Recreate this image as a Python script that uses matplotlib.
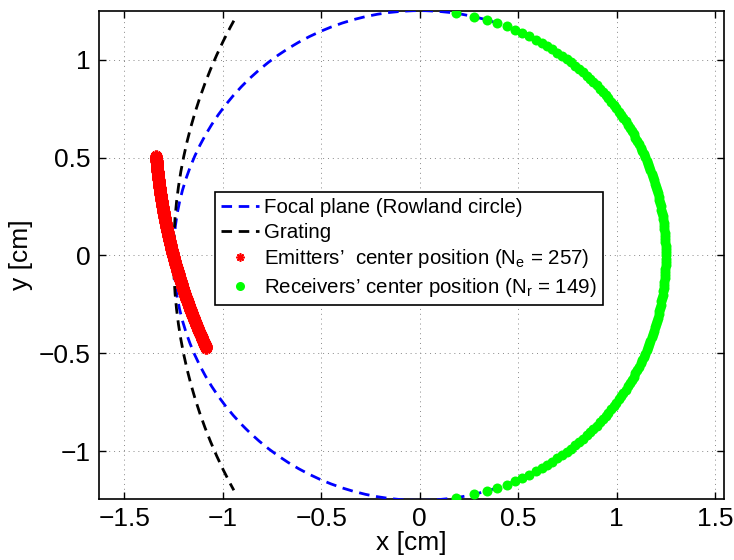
import numpy as np
import matplotlib
matplotlib.use("Agg")
import matplotlib.pyplot as plt
from matplotlib.patches import Circle, Arc
from matplotlib.lines import Line2D

plt.rcParams["font.family"] = ["Liberation Sans", "DejaVu Sans"]
plt.rcParams["mathtext.fontset"] = "custom"
plt.rcParams["mathtext.rm"] = "Liberation Sans"
plt.rcParams["mathtext.it"] = "Liberation Sans"

# geometry (cm)
rowland_center = (0.0, 0.0)
rowland_radius = 1.25
grating_center = (1.25, 0.0)
grating_radius = 2.5
grating_half_angle_deg = 28.65          # +-0.5 rad

n_emitters = 257
emitter_arc_center = (1.594, 0.749)
emitter_arc_radius = 2.943
emitter_angle_span_deg = (184.7, 204.5)

n_receivers = 149
receiver_y_span = (-1.236, 1.236)

xticks = [-1.5, -1, -0.5, 0, 0.5, 1, 1.5]
yticks = [-1, -0.5, 0, 0.5, 1]
tick_labels_x = ["\u22121.5", "\u22121", "\u22120.5", "0", "0.5", "1", "1.5"]
tick_labels_y = ["\u22121", "\u22120.5", "0", "0.5", "1"]

BLUE, RED, GREEN = "#0000ff", "#ff0000", "#00ff00"
DASH = (0, (3.8, 2.4))

# emitter / receiver positions
th = np.deg2rad(np.linspace(*emitter_angle_span_deg, n_emitters))
ex = emitter_arc_center[0] + emitter_arc_radius * np.cos(th)
ey = emitter_arc_center[1] + emitter_arc_radius * np.sin(th)
ry = np.linspace(*receiver_y_span, n_receivers)
rx = np.sqrt(rowland_radius ** 2 - ry ** 2)

fig = plt.figure(figsize=(7.34, 5.6), dpi=100)
ax = fig.add_axes([0.1346, 0.109, 0.8515, 0.872])

ax.add_patch(Circle(rowland_center, rowland_radius, fill=False, ec=BLUE,
                    lw=2.0, ls=DASH, zorder=3))
ax.add_patch(Arc(grating_center, 2 * grating_radius, 2 * grating_radius,
                 theta1=180 - grating_half_angle_deg, theta2=180 + grating_half_angle_deg,
                 ec="k", lw=2.0, ls=DASH, zorder=3))
ax.plot(ex, ey, ls="none", marker=(8, 2, 0), ms=8.5, mew=2.4, color=RED, zorder=4)
ax.plot(rx, ry, ls="none", marker="o", ms=7.2, mew=0, color=GREEN, zorder=5)

ax.set_xlim(-1.63, 1.545)
ax.set_ylim(-1.243, 1.25)
ax.set_xticks(xticks)
ax.set_xticklabels(tick_labels_x)
ax.set_yticks(yticks)
ax.set_yticklabels(tick_labels_y)
ax.tick_params(direction="in", top=True, right=True, length=5, width=1,
               labelsize=19, pad=6)
ax.grid(True, ls=(0, (1, 4)), color="#888888", lw=0.7)
for s in ax.spines.values():
    s.set_linewidth(1.2)
ax.set_xlabel("x [cm]", fontsize=19, labelpad=0)
ax.set_ylabel("y [cm]", fontsize=19, labelpad=4)

handles = [
    Line2D([], [], color=BLUE, lw=2.0, ls=DASH),
    Line2D([], [], color="k", lw=2.0, ls=DASH),
    Line2D([], [], ls="none", marker=(8, 2, 0), ms=6, mew=1.2, color=RED),
    Line2D([], [], ls="none", marker="o", ms=6.5, mew=0, color=GREEN),
]
labels = [
    "Focal plane (Rowland circle)",
    "Grating",
    "Emitters\u2019  center position (N$_{\\mathrm{e}}$ = 257)",
    "Receivers\u2019 center position (N$_{\\mathrm{r}}$ = 149)",
]
leg = ax.legend(handles, labels, loc="upper left", bbox_to_anchor=(0.186, 0.629),
                fontsize=14.8, handlelength=1.85, handletextpad=0.25,
                labelspacing=0.28, borderpad=0.3, borderaxespad=0,
                fancybox=False, framealpha=1, edgecolor="k")
leg.get_frame().set_linewidth(1.2)

fig.savefig("out.png", dpi=100)
